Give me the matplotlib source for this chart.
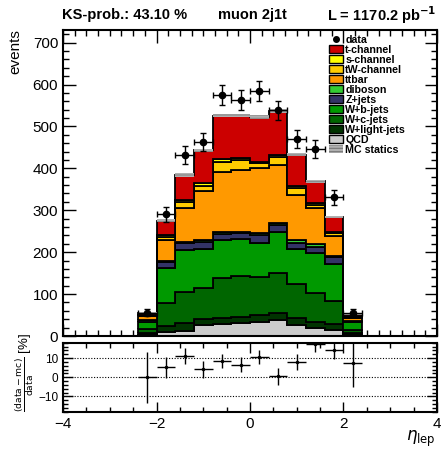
import numpy as np
import matplotlib
matplotlib.use("Agg")
import matplotlib.pyplot as plt
from matplotlib.patches import Patch
from matplotlib.lines import Line2D

plt.rcParams['font.family'] = ['Liberation Sans', 'DejaVu Sans']
plt.rcParams['hatch.linewidth'] = 0.8

# bins in eta_lep
edges = [-2.4, -2.0, -1.6, -1.2, -0.8, -0.4, 0.0, 0.4, 0.8, 1.2, 1.6, 2.0, 2.4]
centers = [-2.2, -1.8, -1.4, -1.0, -0.6, -0.2, 0.2, 0.6, 1.0, 1.4, 1.8, 2.2]

# stacked MC samples, bottom to top
qcd     = [2, 10, 13, 26, 29, 32, 34, 37, 26, 18, 15, 2]
wlight  = [4, 14, 17, 14, 14, 14, 16, 17, 16, 16, 14, 4]
wc      = [10, 54, 76, 75, 96, 96, 90, 96, 82, 68, 55, 9]
wb      = [18, 84, 98, 93, 91, 89, 83, 98, 84, 95, 88, 18]
zjets   = [3, 15, 17, 17, 14, 14, 17, 17, 15, 16, 16, 2]
diboson = [1, 3, 3, 4, 5, 4, 5, 4, 5, 6, 4, 1]
ttbar   = [9, 49, 82, 118, 143, 148, 155, 139, 109, 86, 47, 8]
tw      = [2, 8, 14, 12, 24, 22, 12, 20, 16, 7, 7, 2]
schan   = [1, 3, 5, 5, 6, 5, 4, 4, 5, 5, 3, 1]
tchan   = [6, 35, 59, 79, 104, 102, 106, 104, 75, 52, 35, 5]
mc_stat = [1.5, 3, 4, 4, 4.5, 4.5, 4.5, 4.5, 4, 4, 3, 1.5]

data = [56, 290, 432, 462, 575, 562, 584, 538, 470, 446, 331, 56]

samples = [qcd, wlight, wc, wb, zjets, diboson, ttbar, tw, schan, tchan]
names = ['QCD', 'W+light-jets', 'W+c-jets', 'W+b-jets', 'Z+jets', 'diboson',
         'ttbar', 'tW-channel', 's-channel', 't-channel']
colors = ['#cccccc', '#003300', '#006600', '#009900', '#333366', '#33cc33',
          '#ff9900', '#ffcc00', '#ffff00', '#cc0000']

fig = plt.figure(figsize=(4.41, 4.54), dpi=100)
ax = fig.add_axes([0.1429, 0.2599, 0.848, 0.674])
rax = fig.add_axes([0.1429, 0.0932, 0.848, 0.152])

bottom = np.zeros(len(centers))
for vals, col in zip(samples, colors):
    top = bottom + np.array(vals, dtype=float)
    ax.stairs(top, edges, baseline=bottom, fill=True, facecolor=col,
              edgecolor='black', linewidth=1.3, zorder=2)
    bottom = top
total = bottom
err = np.array(mc_stat)
ax.stairs(total + err, edges, baseline=total - err, fill=True,
          facecolor='#b0b0b0', edgecolor='#888888', hatch='-----',
          linewidth=0, zorder=3)

d = np.array(data, dtype=float)
ax.errorbar(centers, d, xerr=0.2, yerr=np.sqrt(d), fmt='o', color='black',
            markersize=4.5, elinewidth=1, capsize=2, capthick=1, zorder=5)

ax.set_xlim(-4, 4)
ax.set_ylim(0, 730)
ax.set_xticks([-4, -2, 0, 2, 4])
ax.set_xticks(np.arange(-4, 4.01, 0.25), minor=True)
ax.set_xticklabels([])
ax.set_yticks(range(0, 701, 100))
ax.set_yticks(range(0, 731, 20), minor=True)
ax.tick_params(which='both', direction='in', top=True, right=True, width=1)
ax.tick_params(which='major', length=9, labelsize=11)
ax.tick_params(which='minor', length=4.5)
for s in ax.spines.values():
    s.set_linewidth(1.5)

handles = [Line2D([], [], marker='o', color='black', linestyle='none', markersize=4)]
labels = ['data']
for n, c in zip(names[::-1], colors[::-1]):
    handles.append(Patch(facecolor=c, edgecolor='black', linewidth=1))
    labels.append(n)
handles.append(Patch(facecolor='#b0b0b0', edgecolor='#777777', hatch='-----', linewidth=0))
labels.append('MC statics')
leg = ax.legend(handles, labels, loc='upper left', bbox_to_anchor=(0.712, 0.985),
                frameon=False, prop={'weight': 'bold', 'size': 7.7},
                handlelength=1.3, handleheight=0.8, handletextpad=0.2,
                labelspacing=0.0, borderpad=0, borderaxespad=0)

# ratio panel
ratio = 100 * (d - total) / d
rerr = 100 * np.sqrt(d) * total / d ** 2
rax.set_facecolor('white')
rax.errorbar(centers, ratio, xerr=0.2, yerr=rerr, fmt='none', ecolor='black',
             elinewidth=1)
rax.plot(centers, ratio, 'o', color='black', markersize=1.5)
for yv in [-10, 0, 10]:
    rax.axhline(yv, color='black', linestyle=(0, (1, 1.5)), linewidth=0.8)
rax.set_xlim(-4, 4)
rax.set_ylim(-18, 18)
rax.set_xticks([-4, -2, 0, 2, 4])
rax.set_xticks(np.arange(-4, 4.01, 0.5), minor=True)
rax.set_yticks([-10, 0, 10])
rax.set_yticks(np.arange(-18, 18.1, 2), minor=True)
rax.tick_params(which='both', direction='in', top=True, right=True, width=1)
rax.tick_params(which='major', length=7)
rax.tick_params(which='minor', length=3.5)
rax.tick_params(axis='x', labelsize=11)
rax.tick_params(axis='y', labelsize=8.5)
for s in rax.spines.values():
    s.set_linewidth(1.5)

fig.text(0.14, 0.967, 'KS-prob.: 43.10 %', weight='bold', fontsize=10.5, va='center')
fig.text(0.495, 0.967, 'muon 2j1t', weight='bold', fontsize=10.5, va='center')
fig.text(0.99, 0.967, r'L = 1170.2 pb$^{\mathbf{-1}}$', weight='bold', fontsize=10.5,
         va='center', ha='right')
fig.text(0.035, 0.935, 'events', rotation=90, ha='center', va='top', fontsize=11)
fig.text(0.055, 0.18, r'$\frac{\mathrm{(data-mc)}}{\mathrm{data}}$ [%]',
         rotation=90, ha='center', va='center', fontsize=9.5)
fig.text(0.988, 0.012, r'$\eta_{\mathrm{lep}}$', ha='right', va='bottom', fontsize=12)

fig.savefig('out.png', dpi=100)
